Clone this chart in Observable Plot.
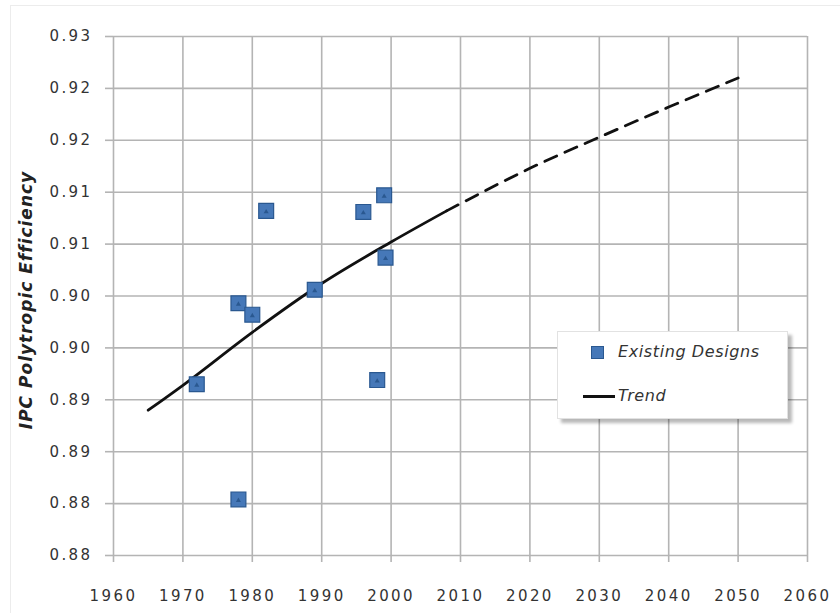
<!DOCTYPE html>
<html>
<head>
<meta charset="utf-8">
<script src="https://cdn.jsdelivr.net/npm/d3@7"></script>
<script src="https://cdn.jsdelivr.net/npm/@observablehq/plot@0.6"></script>
<style>
  html, body { margin: 0; padding: 0; background: #fff; }
  #wrap { position: relative; width: 840px; height: 613px; overflow: hidden; }
  #frame { position: absolute; left: 10px; top: 5px; width: 840px; height: 620px; border-left: 1px solid #ececec; border-top: 1px solid #ececec; }
  #chart svg g[aria-label$="tick label"] text { letter-spacing: 2.4px; }
  #legend {
    position: absolute; left: 557px; top: 331px; width: 229px; height: 86px;
    background: #fff; border: 1px solid #e2e2e2;
    box-shadow: 4px 4px 3px rgba(0,0,0,0.28);
    font-family: "DejaVu Sans", sans-serif; font-style: oblique; font-size: 16px; letter-spacing: 0.6px; color: #333;
  }
  .li { position: absolute; left: 0; height: 20px; line-height: 20px; }
  .sw-sq { position: absolute; left: 33px; top: 4px; width: 13px; height: 13px; background: #4678b8; border: 1px solid #2a5890; box-sizing: border-box; }
  .sw-ln { position: absolute; left: 25px; top: 9px; width: 32px; height: 3px; background: #111; }
  .lt { position: absolute; left: 60px; top: 0; white-space: nowrap; }
</style>
</head>
<body>
<div id="wrap">
  <div id="frame"></div>
  <div id="chart"></div>
  <div id="legend">
    <div class="li" style="top:10px"><div class="sw-sq"></div><div class="lt">Existing Designs</div></div>
    <div class="li" style="top:54px"><div class="sw-ln"></div><div class="lt">Trend</div></div>
  </div>
</div>
<script>
// Existing designs (scatter)
const designYears = [1972, 1978, 1980, 1982, 1989, 1996, 1999, 1999.2, 1998, 1978];
const designEff   = [0.8915, 0.8993, 0.8982, 0.9082, 0.9006, 0.9081, 0.9097, 0.9037, 0.8919, 0.8804];

// Trend line: solid part (historical) and dashed part (projection)
const trendSolidYears = [1965, 1970, 1980, 1990, 2000, 2008];
const trendSolidEff   = [0.8890, 0.8914, 0.8965, 0.9012, 0.9052, 0.9082];
const trendDashYears  = [2008, 2010, 2020, 2030, 2040, 2050];
const trendDashEff    = [0.9082, 0.9089, 0.9123, 0.9153, 0.9182, 0.9210];

// Axis ticks and their labels (as printed in the chart)
const xTicks = [1960, 1970, 1980, 1990, 2000, 2010, 2020, 2030, 2040, 2050, 2060];
const yTicks = [0.875, 0.880, 0.885, 0.890, 0.895, 0.900, 0.905, 0.910, 0.915, 0.920, 0.925];
const yTickLabels = ["0.88", "0.88", "0.89", "0.89", "0.90", "0.90", "0.91", "0.91", "0.92", "0.92", "0.93"];

const designs = designYears.map((y, i) => ({year: y, eff: designEff[i]}));
const solid = trendSolidYears.map((y, i) => ({year: y, eff: trendSolidEff[i]}));
const dashed = trendDashYears.map((y, i) => ({year: y, eff: trendDashEff[i]}));

const gridColor = "#b4b4b4";
const textColor = "#333";

const chart = Plot.plot({
  width: 840,
  height: 613,
  marginLeft: 113,
  marginRight: 33,
  marginTop: 36,
  marginBottom: 58,
  style: {fontFamily: "'DejaVu Sans', sans-serif", fontSize: "15px", color: textColor, background: "transparent"},
  x: {domain: [1960, 2060]},
  y: {domain: [0.875, 0.925]},
  marks: [
    Plot.gridX(xTicks, {stroke: gridColor, strokeOpacity: 1, strokeWidth: 1.6}),
    Plot.gridY(yTicks, {stroke: gridColor, strokeOpacity: 1, strokeWidth: 1.6}),
    Plot.axisX({ticks: xTicks, tickFormat: d => String(d), tickSize: 7, stroke: gridColor, strokeWidth: 1.6, tickPadding: 28, fill: textColor, label: null}),
    Plot.axisY({ticks: yTicks, tickFormat: d => yTickLabels[yTicks.indexOf(d)], tickSize: 8, stroke: gridColor, strokeWidth: 1.6, tickPadding: 13, fill: textColor, label: null}),
    Plot.line(solid, {x: "year", y: "eff", stroke: "#111", strokeWidth: 2.8, curve: "monotone-x"}),
    Plot.line(dashed, {x: "year", y: "eff", stroke: "#111", strokeWidth: 2.8, strokeDasharray: "13,9", curve: "monotone-x"}),
    Plot.dot(designs, {x: "year", y: "eff", symbol: "square", r: 8.4, fill: "#4678b8", stroke: "#2a5890", strokeWidth: 1.2}),
    Plot.dot(designs, {x: "year", y: "eff", symbol: "triangle2", r: 2.4, fill: "#2a5890", dy: 1})
  ]
});
document.getElementById("chart").appendChild(chart);

// y-axis title
const svg = d3.select(chart);
svg.append("text")
  .attr("transform", "translate(32,300) rotate(-90)")
  .attr("text-anchor", "middle")
  .attr("fill", "#222")
  .style("font-family", "'DejaVu Sans', sans-serif")
  .style("font-weight", "bold")
  .style("font-style", "oblique")
  .style("font-size", "17px")
  .style("letter-spacing", "1px")
  .text("IPC Polytropic Efficiency");
</script>
</body>
</html>
